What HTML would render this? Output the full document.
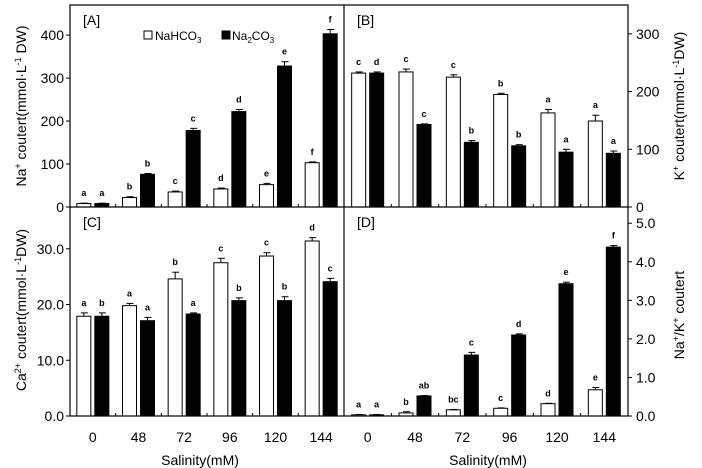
<!DOCTYPE html>
<html><head><meta charset="utf-8"><style>
body{margin:0;background:#fff}
svg{display:block;font-family:"Liberation Sans",sans-serif}
</style></head><body>
<svg id="c" width="702" height="468" xmlns="http://www.w3.org/2000/svg"></svg>
<script>
const categories=["0","48","72","96","120","144"];
const aWhite=[8,22,35,42,52,103];
const aBlack=[8,76,178,222,328,403];
const aWhiteErr=[1,2,2,2,3,2];
const aBlackErr=[1,2,5,5,10,10];
const aWhiteLet=["a","b","c","d","e","f"];
const aBlackLet=["a","b","c","d","e","f"];
const bWhite=[232,234,225,195,163,149];
const bBlack=[232,143,112,106,95,93];
const bWhiteErr=[2,5,4,2,6,10];
const bBlackErr=[2,1,3,2,5,4];
const bWhiteLet=["c","c","c","b","a","a"];
const bBlackLet=["d","c","b","b","a","a"];
const cWhite=[17.9,19.8,24.6,27.5,28.7,31.4];
const cBlack=[17.9,17.1,18.3,20.7,20.7,24.1];
const cWhiteErr=[0.6,0.4,1.2,0.8,0.6,0.6];
const cBlackErr=[0.6,0.6,0.2,0.5,0.7,0.6];
const cWhiteLet=["a","a","b","c","c","d"];
const cBlackLet=["b","a","a","b","b","c"];
const dWhite=[0.03,0.08,0.16,0.2,0.32,0.68];
const dBlack=[0.03,0.52,1.58,2.1,3.43,4.38];
const dWhiteErr=[0.01,0.03,0.01,0.01,0.01,0.06];
const dBlackErr=[0.01,0.01,0.07,0.03,0.04,0.04];
const dWhiteLet=["a","b","bc","c","d","e"];
const dBlackLet=["a","ab","c","d","e","f"];
const aTicks=[0,100,200,300,400];
const bTicks=[0,100,200,300];
const cTicks=["0.0","10.0","20.0","30.0"];
const dTicks=["0.0","1.0","2.0","3.0","4.0","5.0"];

const svg=document.getElementById('c');
const NS="http://www.w3.org/2000/svg";
function mk(tag,attrs,parent,text){const e=document.createElementNS(NS,tag);for(const k in attrs)e.setAttribute(k,attrs[k]);if(text!==undefined)e.textContent=text;(parent||svg).appendChild(e);return e;}

function panel(id,x0,x1,yTop,yBot,max,white,black,wErr,bErr,wLet,bLet,ticks,side){
  const g=mk('g',{});
  
  
  const gw=(x1-x0)/categories.length;
  const y=v=>yBot-(v/max)*(yBot-yTop);
  const bw=14;
  // ticks
  ticks.forEach(t=>{
    const v=parseFloat(t);const ty=y(v);
    if(ty<yTop-1)return;
    if(side==='left'){
      mk('line',{x1:x0-4,x2:x0,y1:ty,y2:ty,stroke:'#000','stroke-width':1},g);
      const tl=mk('text',{x:x0-6,y:ty+5,'text-anchor':'end','font-size':14},g,t);
      
      
    }else{
      mk('line',{x1:x1,x2:x1+4,y1:ty,y2:ty,stroke:'#000','stroke-width':1},g);
      const tl=mk('text',{x:x1+8,y:ty+5,'text-anchor':'start','font-size':14},g,t);
      
      
    }
  });
  for(let i=1;i<categories.length;i++){
    const tx=x0+gw*i;
    mk('line',{x1:tx,x2:tx,y1:yBot,y2:yBot-3,stroke:'#000','stroke-width':1},g);
  }
  categories.forEach((c,i)=>{
    const cx=x0+gw*(i+0.5);
    [[white,wErr,wLet,'#fff',cx-2-bw,'white'],[black,bErr,bLet,'#000',cx+2,'black']].forEach(s=>{
      const v=s[0][i],e=s[1][i],bx=s[4];
      const top=y(v);
      const r=mk('rect',{x:bx,y:top,width:bw,height:yBot-top,fill:s[3],stroke:'#000','stroke-width':1},g);
      
      
      const et=y(v+e);
      mk('line',{x1:bx+bw/2,x2:bx+bw/2,y1:top,y2:et,stroke:'#000','stroke-width':1},g);
      mk('line',{x1:bx+bw/2-3,x2:bx+bw/2+4,y1:et,y2:et,stroke:'#000','stroke-width':1},g);
      const lt=mk('text',{x:bx+bw/2,y:et-7,'text-anchor':'middle','font-size':9,'font-weight':'bold'},g,s[2][i]);
      
      
    });
  });
  const pl=mk('text',{x:x0+13,y:yTop+20,'font-size':14},g,'['+id+']');
  
  
  return gw;
}
panel('A',70,344,5,207,470,aWhite,aBlack,aWhiteErr,aBlackErr,aWhiteLet,aBlackLet,aTicks.map(String),'left');
panel('B',344,628,5,207,350,bWhite,bBlack,bWhiteErr,bBlackErr,bWhiteLet,bBlackLet,bTicks.map(String),'right');
const gwC=panel('C',70,344,207,416,37.5,cWhite,cBlack,cWhiteErr,cBlackErr,cWhiteLet,cBlackLet,cTicks,'left');
const gwD=panel('D',344,628,207,416,5.42,dWhite,dBlack,dWhiteErr,dBlackErr,dWhiteLet,dBlackLet,dTicks,'right');

// frame
mk('rect',{x:70,y:5,width:558,height:411,fill:'none',stroke:'#000','stroke-width':1.2});
mk('line',{x1:70,x2:628,y1:207,y2:207,stroke:'#000','stroke-width':1.2});
mk('line',{x1:344,x2:344,y1:5,y2:416,stroke:'#000','stroke-width':1.2});

// x labels
categories.forEach((c,i)=>{
  const t1=mk('text',{x:70+gwC*(i+0.5),y:442,'text-anchor':'middle','font-size':14},svg,c);
  
  
  const t2=mk('text',{x:344+gwD*(i+0.5),y:442,'text-anchor':'middle','font-size':14},svg,c);
  
  
});
const xt1=mk('text',{x:200,y:465,'text-anchor':'middle','font-size':14},svg,'Salinity(mM)');


const xt2=mk('text',{x:488,y:465,'text-anchor':'middle','font-size':14},svg,'Salinity(mM)');



// legend
const lg=mk('g',{});


mk('rect',{x:144,y:31,width:8,height:8,fill:'#fff',stroke:'#000'},lg);
mk('text',{x:155,y:40,'font-size':12},lg).innerHTML='NaHCO<tspan font-size="8" dy="3">3</tspan>';
mk('rect',{x:222,y:31,width:8,height:8,fill:'#000',stroke:'#000'},lg);
mk('text',{x:232,y:40,'font-size':12},lg).innerHTML='Na<tspan font-size="8" dy="3">2</tspan><tspan dy="-3">CO</tspan><tspan font-size="8" dy="3">3</tspan>';
</script>
<svg width="0" height="0"></svg>
<div style="position:absolute;left:0;top:0;width:702px;height:468px;pointer-events:none">
<svg width="702" height="468" style="position:absolute;left:0;top:0;font-family:'Liberation Sans',sans-serif">
<text transform="translate(26,106) rotate(-90)" text-anchor="middle" font-size="14">Na<tspan font-size="9" dy="-5">+</tspan><tspan dy="5"> coutert(mmol·L</tspan><tspan font-size="9" dy="-5">-1</tspan><tspan dy="5"> DW)</tspan></text>
<text transform="translate(26,310) rotate(-90)" text-anchor="middle" font-size="14">Ca<tspan font-size="9" dy="-5">2+</tspan><tspan dy="5"> coutert(mmol·L</tspan><tspan font-size="9" dy="-5">-1</tspan><tspan dy="5">DW)</tspan></text>
<text transform="translate(684,106) rotate(-90)" text-anchor="middle" font-size="14">K<tspan font-size="9" dy="-5">+</tspan><tspan dy="5"> coutert(mmol·L</tspan><tspan font-size="9" dy="-5">-1</tspan><tspan dy="5">DW)</tspan></text>
<text transform="translate(684,315) rotate(-90)" text-anchor="middle" font-size="14">Na<tspan font-size="9" dy="-5">+</tspan><tspan dy="5">/K</tspan><tspan font-size="9" dy="-5">+</tspan><tspan dy="5"> coutert</tspan></text>
</svg></div>
</body></html>
